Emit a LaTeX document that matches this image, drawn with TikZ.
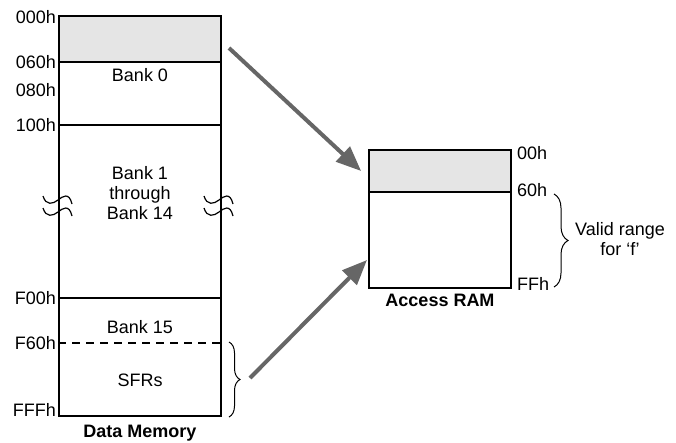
\documentclass[tikz,border=0pt]{standalone}
\usepackage{fontspec}
\setmainfont{Liberation Sans}
\usetikzlibrary{arrows.meta,positioning,decorations.pathreplacing}
\definecolor{shade}{RGB}{229,229,229}
\definecolor{arrowgrey}{RGB}{102,102,102}

\begin{document}
\begin{tikzpicture}[x=1pt, y=-1pt, font=\fontsize{18}{20}\selectfont]
\tikzstyle{memblk}=[draw=black, line width=1.8pt, minimum width=162pt, inner sep=0pt]
\tikzstyle{accblk}=[draw=black, line width=1.8pt, minimum width=142pt, inner sep=0pt]
\tikzstyle{addr}=[inner sep=1pt]
\tikzstyle{bigarrow}=[-{Triangle[length=25pt,width=20pt]}, line width=4pt, draw=arrowgrey, fill=arrowgrey]
\tikzstyle{brc}=[decorate, line width=1pt]
\tikzstyle{breakln}=[line width=1.2pt]
\useasboundingbox (0,0) rectangle (676,442);

% data memory
\node[memblk, fill=shade, minimum height=46pt] (gpr)    at (140,39)    {};
\node[memblk, minimum height=63pt]             (bank0)  at (140,93.5)  {};
\node[memblk, minimum height=173pt]            (banks)  at (140,211.5) {};
\node[memblk, minimum height=118pt]            (bank15) at (140,357)   {};
\coordinate (sfrtop) at (140,343);
\draw[line width=1.8pt, dash pattern=on 8pt off 6pt] (bank15.west |- sfrtop) -- (bank15.east |- sfrtop);

\node (b0)   at (140,75)  {Bank 0};
\node[align=center] (bmid) at (140,193) {Bank 1\\through\\Bank 14};
\node (b15)  at (140,327) {Bank 15};
\node (sfr)  at (140,380) {SFRs};
\node[font=\fontsize{18}{20}\selectfont\bfseries] (dmem) at (140,433) {Data Memory};

\node[addr, anchor=east] (a000) at (57,17)  {000h};
\node[addr, anchor=east] (a060) at (57,62)  {060h};
\node[addr, anchor=east] (a080) at (57,90)  {080h};
\node[addr, anchor=east] (a100) at (57,125) {100h};
\node[addr, anchor=east] (aF00) at (57,298) {F00h};
\node[addr, anchor=east] (aF60) at (57,343) {F60h};
\node[addr, anchor=east] (aFFF) at (57,410) {FFFh};

% break marks
\foreach \dx in {0,161}
  \foreach \dy in {0,12}
    \draw[breakln, shift={(\dx,\dy)}] (43,196) .. controls (46,206) and (53,204) .. (58,200)
      .. controls (63,196) and (69,192) .. (72,204);

\draw[brc, decoration={brace, amplitude=11pt}] (229,342) -- (229,417);

% access RAM
\node[accblk, fill=shade, minimum height=42pt] (acc0) at (440,171) {};
\node[accblk, minimum height=96pt]             (acc1) at (440,240) {};
\node[font=\fontsize{18}{20}\selectfont\bfseries] (aram) at (440,300) {Access RAM};

\node[addr, anchor=west] (r00) at (516,153) {00h};
\node[addr, anchor=west] (r60) at (516,190) {60h};
\node[addr, anchor=west] (rFF) at (516,284) {FFh};

\draw[brc, decoration={brace, amplitude=14pt}] (554,194) -- (554,287);
\node[align=center] (valid) at (620,239) {Valid range\\for ‘f’};

% mapping arrows
\coordinate (a1s) at (229,48);
\coordinate (a1e) at ([xshift=-7pt]acc0.west);
\coordinate (a2s) at (250,378);
\coordinate (a2e) at (367,260);
\path (a1s) edge[bigarrow] (a1e)
      (a2s) edge[bigarrow] (a2e);
\end{tikzpicture}
\end{document}
